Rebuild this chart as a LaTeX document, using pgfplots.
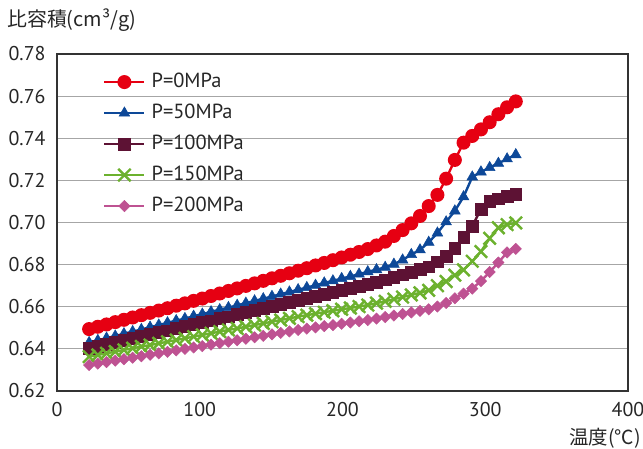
\documentclass[border=0pt]{standalone}
\usepackage{fontspec}
\setmainfont{PT Sans}
\newfontfamily\jp{Noto Sans CJK JP}
\usepackage{pgfplots}
\usepackage{pgfplotstable}
\pgfplotsset{compat=1.18}
\definecolor{cRed}{RGB}{230,0,18}
\definecolor{cBlue}{RGB}{13,72,152}
\definecolor{cMar}{RGB}{93,18,52}
\definecolor{cGreen}{RGB}{108,177,46}
\definecolor{cPink}{RGB}{190,82,146}
\pgfplotstableread{
T p0 p50 p100 p150 p200
22.5 0.6494 0.6430 0.6403 0.6363 0.6323
28.6 0.6505 0.6440 0.6412 0.6371 0.6330
34.7 0.6516 0.6451 0.6422 0.6379 0.6337
40.8 0.6527 0.6461 0.6431 0.6387 0.6344
46.9 0.6538 0.6472 0.6441 0.6395 0.6351
53.0 0.6549 0.6482 0.6450 0.6403 0.6358
59.1 0.6560 0.6492 0.6459 0.6411 0.6365
65.2 0.6571 0.6503 0.6469 0.6418 0.6372
71.3 0.6582 0.6513 0.6478 0.6426 0.6379
77.4 0.6593 0.6524 0.6487 0.6434 0.6386
83.5 0.6605 0.6534 0.6497 0.6442 0.6393
89.6 0.6616 0.6544 0.6506 0.6450 0.6400
95.7 0.6628 0.6555 0.6516 0.6458 0.6407
101.8 0.6639 0.6565 0.6525 0.6466 0.6413
107.9 0.6651 0.6576 0.6534 0.6474 0.6420
114.0 0.6663 0.6586 0.6544 0.6482 0.6427
120.1 0.6675 0.6596 0.6553 0.6490 0.6434
126.2 0.6687 0.6607 0.6563 0.6497 0.6441
132.3 0.6699 0.6617 0.6573 0.6505 0.6448
138.4 0.6711 0.6628 0.6583 0.6513 0.6455
144.5 0.6723 0.6638 0.6593 0.6521 0.6462
150.6 0.6735 0.6649 0.6602 0.6529 0.6469
156.7 0.6747 0.6660 0.6612 0.6537 0.6476
162.8 0.6759 0.6670 0.6622 0.6545 0.6483
168.9 0.6771 0.6681 0.6632 0.6553 0.6490
175.0 0.6783 0.6691 0.6641 0.6560 0.6496
181.1 0.6796 0.6702 0.6650 0.6567 0.6502
187.2 0.6808 0.6713 0.6660 0.6574 0.6508
193.3 0.6821 0.6723 0.6669 0.6581 0.6513
199.4 0.6834 0.6734 0.6678 0.6588 0.6519
205.5 0.6847 0.6744 0.6688 0.6594 0.6525
211.6 0.6860 0.6755 0.6697 0.6601 0.6531
217.7 0.6874 0.6766 0.6706 0.6608 0.6537
223.8 0.6891 0.6776 0.6717 0.6617 0.6544
229.9 0.6909 0.6787 0.6728 0.6626 0.6551
236.0 0.6936 0.6802 0.6740 0.6636 0.6558
242.1 0.6964 0.6822 0.6752 0.6646 0.6566
248.2 0.6996 0.6848 0.6764 0.6656 0.6573
254.3 0.7031 0.6870 0.6777 0.6666 0.6580
260.4 0.7078 0.6906 0.6790 0.6678 0.6588
266.5 0.7131 0.6950 0.6814 0.6700 0.6601
272.6 0.7208 0.7003 0.6841 0.6720 0.6618
278.7 0.7297 0.7055 0.6878 0.6750 0.6640
284.8 0.7379 0.7122 0.6930 0.6775 0.6662
290.9 0.7411 0.7216 0.6983 0.6816 0.6686
297.0 0.7442 0.7240 0.7063 0.6862 0.6722
303.1 0.7476 0.7261 0.7102 0.6925 0.6765
309.2 0.7514 0.7281 0.7113 0.6975 0.6810
315.3 0.7547 0.7302 0.7126 0.6990 0.6858
321.4 0.7575 0.7322 0.7135 0.6998 0.6875
}\data
\begin{document}
\begin{tikzpicture}
\useasboundingbox (-57bp,-58bp) rectangle (586bp,391bp);
\begin{axis}[
  scale only axis, width=571bp, height=337bp,
  xmin=0, xmax=400, ymin=0.62, ymax=0.78,
  xtick={0,100,200,300,400},
  ytick={0.62,0.64,0.66,0.68,0.70,0.72,0.74,0.76,0.78},
  ymajorgrids,
  grid style={draw=black!35, line width=1.2bp},
  axis line style={draw=black!80, line width=1.3bp},
  major tick length=0pt,
  tick label style={font=\fontsize{20}{23}\selectfont, text=black!85},
  /pgf/number format/assume math mode=true,
  yticklabel style={/pgf/number format/.cd, fixed, fixed zerofill, precision=2, /tikz/.cd, xshift=-8bp},
  xticklabel style={yshift=-8bp},
  legend style={at={(0.0806,0.944)}, anchor=north west, draw=none, fill=none,
    font=\fontsize{20.5}{23}\selectfont, text=black!85,
    inner sep=0pt, row sep=13bp, column sep=6bp,
    nodes={inner sep=0pt, text height=14bp, text depth=4bp}},
  legend cell align=left,
  legend image code/.code={\draw[mark repeat=2,mark phase=2] plot coordinates {(0bp,0bp)(20bp,0bp)(40bp,0bp)};},
  every axis plot/.append style={line width=2.4bp},
]
\addplot[cRed, mark=*, mark size=5.8bp, mark options={solid}] table[x=T,y=p0] {\data};
\addlegendentry{P=0MPa}
\addplot[cBlue, mark=triangle*, mark size=6.2bp, mark options={solid, line width=0.5bp}] table[x=T,y=p50] {\data};
\addlegendentry{P=50MPa}
\addplot[cMar, mark=square*, mark size=5.8bp, mark options={solid, line width=0.5bp}] table[x=T,y=p100] {\data};
\addlegendentry{P=100MPa}
\addplot[cGreen, mark=x, mark size=8.8bp, mark options={solid, line width=2.4bp}] table[x=T,y=p150] {\data};
\addlegendentry{P=150MPa}
\addplot[cPink, mark=square*, mark size=4bp, mark options={solid, rotate=45, line width=0.5bp}] table[x=T,y=p200] {\data};
\addlegendentry{P=200MPa}
\end{axis}
\node[anchor=west, inner sep=0pt, font=\jp\fontsize{20}{24}\selectfont, text=black!85] at (-50bp,371bp) {比容積(cm³/g)};
\node[anchor=east, inner sep=0pt, font=\jp\fontsize{19.5}{23}\selectfont, text=black!85] at (584bp,-47bp) {温度(℃)};
\end{tikzpicture}
\end{document}
